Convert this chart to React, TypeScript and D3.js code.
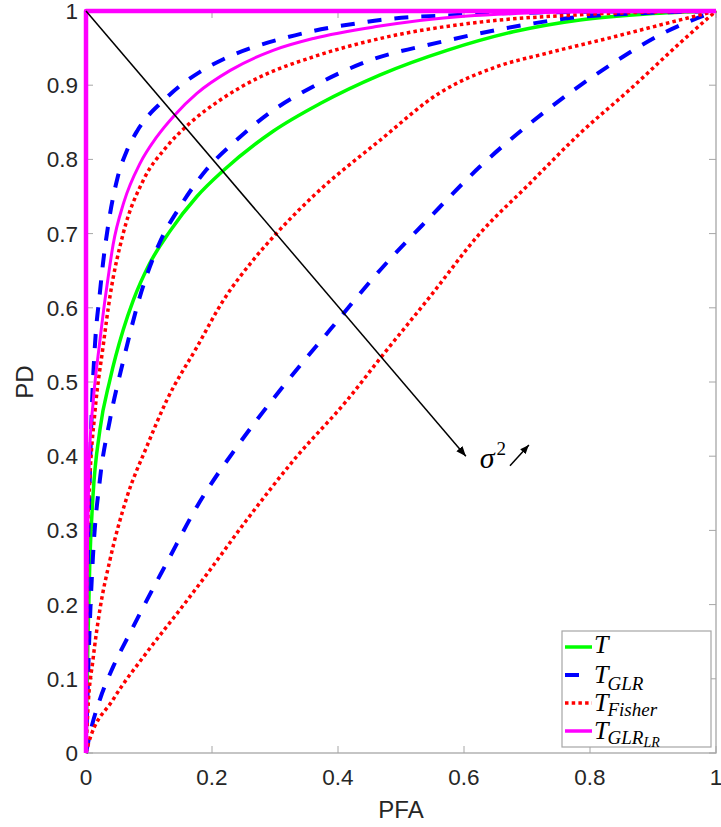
import React from "react";
import * as d3 from "d3";

type P = [number, number];

// ---- data (PFA, PD) ----
const curveT: P[] = [
  [0, 0], [0.003, 0.15], [0.006, 0.256], [0.011, 0.345], [0.022, 0.435], [0.038, 0.503],
  [0.059, 0.57], [0.075, 0.61], [0.1, 0.658], [0.133, 0.703], [0.176, 0.75], [0.218, 0.785],
  [0.297, 0.838], [0.371, 0.875], [0.467, 0.914], [0.573, 0.947], [0.678, 0.972],
  [0.784, 0.988], [0.89, 0.996], [1, 1],
];
const curveGLR1: P[] = [
  [0, 0], [0.002, 0.2], [0.006, 0.37], [0.009, 0.458], [0.014, 0.547], [0.022, 0.62],
  [0.027, 0.66], [0.035, 0.71], [0.05, 0.775], [0.065, 0.812], [0.081, 0.838], [0.1, 0.86],
  [0.12, 0.877], [0.149, 0.899], [0.181, 0.918], [0.218, 0.935], [0.265, 0.951], [0.308, 0.962],
  [0.36, 0.973], [0.435, 0.984], [0.467, 0.988], [0.6, 0.995], [0.8, 0.999], [1, 1],
];
const curveGLR2: P[] = [
  [0, 0], [0.005, 0.15], [0.011, 0.264], [0.022, 0.368], [0.038, 0.449], [0.059, 0.528],
  [0.088, 0.622], [0.117, 0.688], [0.149, 0.736], [0.191, 0.786], [0.239, 0.826], [0.287, 0.86],
  [0.36, 0.898], [0.446, 0.932], [0.562, 0.958], [0.694, 0.981], [0.784, 0.992], [1, 1],
];
const curveGLR3: P[] = [
  [0, 0], [0.006, 0.025], [0.022, 0.072], [0.043, 0.116], [0.07, 0.162], [0.096, 0.205],
  [0.128, 0.256], [0.176, 0.332], [0.239, 0.412], [0.308, 0.489], [0.387, 0.57], [0.467, 0.651],
  [0.546, 0.722], [0.625, 0.79], [0.731, 0.866], [0.837, 0.93], [0.916, 0.97], [1, 1],
];
const curveFisher1: P[] = [
  [0, 0], [0.002, 0.278], [0.006, 0.368], [0.014, 0.458], [0.027, 0.547], [0.038, 0.615],
  [0.059, 0.7], [0.091, 0.772], [0.128, 0.817], [0.165, 0.849], [0.213, 0.88], [0.276, 0.911],
  [0.36, 0.938], [0.467, 0.963], [0.625, 0.985], [0.784, 0.995], [1, 1],
];
const curveFisher2: P[] = [
  [0, 0], [0.003, 0.058], [0.011, 0.125], [0.022, 0.193], [0.038, 0.26], [0.065, 0.345],
  [0.096, 0.412], [0.128, 0.475], [0.176, 0.547], [0.218, 0.61], [0.265, 0.664], [0.302, 0.7],
  [0.36, 0.75], [0.467, 0.826], [0.562, 0.89], [0.652, 0.925], [0.731, 0.943], [0.837, 0.965],
  [0.943, 0.988], [1, 1],
];
const curveFisher3: P[] = [
  [0, 0], [0.003, 0.01], [0.043, 0.072], [0.096, 0.135], [0.149, 0.193], [0.191, 0.24],
  [0.255, 0.314], [0.334, 0.399], [0.414, 0.475], [0.467, 0.532], [0.546, 0.615], [0.625, 0.7],
  [0.705, 0.768], [0.784, 0.835], [0.863, 0.894], [0.943, 0.957], [1, 1],
];
const curveGLRLR1: P[] = [
  [0, 0], [0.002, 0.25], [0.006, 0.41], [0.011, 0.47], [0.022, 0.555], [0.03, 0.61],
  [0.035, 0.64], [0.043, 0.685], [0.06, 0.742], [0.086, 0.795], [0.112, 0.83], [0.141, 0.86],
  [0.176, 0.889], [0.229, 0.92], [0.297, 0.947], [0.361, 0.963], [0.461, 0.979], [0.6, 0.993],
  [0.8, 0.999], [1, 1],
];
const curveGLRLR2: P[] = [[0, 0], [0, 1], [1, 1]];

const xTicks = [0, 0.2, 0.4, 0.6, 0.8, 1];
const xTickLabels = ["0", "0.2", "0.4", "0.6", "0.8", "1"];
const yTicks = [0, 0.1, 0.2, 0.3, 0.4, 0.5, 0.6, 0.7, 0.8, 0.9, 1];
const yTickLabels = ["0", "0.1", "0.2", "0.3", "0.4", "0.5", "0.6", "0.7", "0.8", "0.9", "1"];

const arrowMain: P[] = [[0, 1], [0.603, 0.4]];
const arrowSmall: P[] = [[0.673, 0.387], [0.703, 0.415]];
const sigmaPos: P = [0.625, 0.384];

const W = 721, H = 827;
const L = 86, R = 716, T = 11, B = 753;

const x = d3.scaleLinear().domain([0, 1]).range([L, R]);
const y = d3.scaleLinear().domain([0, 1]).range([B, T]);
const smooth = d3.line<P>().x((d) => x(d[0])).y((d) => y(d[1])).curve(d3.curveMonotoneX);
const straight = d3.line<P>().x((d) => x(d[0])).y((d) => y(d[1]));

const GREEN = "#00ff00", BLUE = "#0000ff", RED = "#ff0000", MAG = "#ff00ff";
const dashBlue = "14 13";
const dotRed = "3.5 3.2";
const TICK = "#262626";
const AX = "#a6a6a6";

const series = [
  { pts: curveT, color: GREEN, w: 3.5, dash: undefined as string | undefined, lin: false },
  { pts: curveGLR1, color: BLUE, w: 4, dash: dashBlue, lin: false },
  { pts: curveGLR2, color: BLUE, w: 4, dash: dashBlue, lin: false },
  { pts: curveGLR3, color: BLUE, w: 4, dash: dashBlue, lin: false },
  { pts: curveFisher1, color: RED, w: 3.5, dash: dotRed, lin: false },
  { pts: curveFisher2, color: RED, w: 3.5, dash: dotRed, lin: false },
  { pts: curveFisher3, color: RED, w: 3.5, dash: dotRed, lin: false },
  { pts: curveGLRLR1, color: MAG, w: 3, dash: undefined, lin: false },
  { pts: curveGLRLR2, color: MAG, w: 4.5, dash: undefined, lin: true },
];

const legendRows = [
  { color: GREEN, dash: undefined as string | undefined, w: 3.5, y: 647 },
  { color: BLUE, dash: dashBlue, w: 4, y: 675 },
  { color: RED, dash: dotRed, w: 3.5, y: 703 },
  { color: MAG, dash: undefined, w: 3.5, y: 731 },
];

export default function App() {
  const serif = "'Liberation Serif', 'DejaVu Serif', serif";
  const sans = "'Liberation Sans', Arial, Helvetica, sans-serif";
  return (
    <svg
      width={W}
      height={H}
      style={{ position: "absolute", left: 0, top: 0, background: "#fff" }}
    >
      <defs>
        <marker id="ah" viewBox="0 0 10 10" refX="10" refY="5" markerWidth="10" markerHeight="10" markerUnits="userSpaceOnUse" orient="auto">
          <path d="M0,1 L10,5 L0,9 z" fill="#000" />
        </marker>
        <marker id="ah2" viewBox="0 0 10 10" refX="10" refY="5" markerWidth="9" markerHeight="9" markerUnits="userSpaceOnUse" orient="auto">
          <path d="M0,1 L10,5 L0,9 z" fill="#000" />
        </marker>
      </defs>
      <rect x={0} y={0} width={W} height={H} fill="#fff" />
      {/* axes box */}
      <rect x={L} y={T} width={R - L} height={B - T} fill="none" stroke={AX} strokeWidth={1.3} />
      {xTicks.map((t, i) => (
        <g key={"xt" + i}>
          <line x1={x(t)} x2={x(t)} y1={B} y2={B - 7} stroke={AX} strokeWidth={1} />
          <line x1={x(t)} x2={x(t)} y1={T} y2={T + 7} stroke={AX} strokeWidth={1} />
          <text x={x(t)} y={785} textAnchor="middle" fontSize={22.5} fontFamily={sans} fill={TICK}>
            {xTickLabels[i]}
          </text>
        </g>
      ))}
      {yTicks.map((t, i) => (
        <g key={"yt" + i}>
          <line x1={L} x2={L + 7} y1={y(t)} y2={y(t)} stroke={AX} strokeWidth={1} />
          <line x1={R} x2={R - 7} y1={y(t)} y2={y(t)} stroke={AX} strokeWidth={1} />
          <text x={78} y={y(t) + 8} textAnchor="end" fontSize={22.5} fontFamily={sans} fill={TICK}>
            {yTickLabels[i]}
          </text>
        </g>
      ))}
      <text x={(L + R) / 2} y={818} textAnchor="middle" fontSize={24} fontFamily={sans} fill={TICK}>
        PFA
      </text>
      <text
        transform={`translate(33, ${(T + B) / 2}) rotate(-90)`}
        textAnchor="middle"
        fontSize={24}
        fontFamily={sans}
        fill={TICK}
      >
        PD
      </text>

      {/* curves */}
      {series.map((s, i) => (
        <path
          key={"s" + i}
          d={(s.lin ? straight(s.pts) : smooth(s.pts)) || ""}
          fill="none"
          stroke={s.color}
          strokeWidth={s.w}
          strokeDasharray={s.dash}
          strokeLinejoin="round"
        />
      ))}

      {/* annotation */}
      <line
        x1={x(arrowMain[0][0])}
        y1={y(arrowMain[0][1])}
        x2={x(arrowMain[1][0])}
        y2={y(arrowMain[1][1])}
        stroke="#000"
        strokeWidth={1.5}
        markerEnd="url(#ah)"
      />
      <text x={x(sigmaPos[0])} y={y(sigmaPos[1])} fontSize={30} fontFamily={serif} fontStyle="italic" fill="#000">
        σ
        <tspan fontStyle="normal" fontSize={19} dy={-13} dx={2}>2</tspan>
      </text>
      <line
        x1={x(arrowSmall[0][0])}
        y1={y(arrowSmall[0][1])}
        x2={x(arrowSmall[1][0])}
        y2={y(arrowSmall[1][1])}
        stroke="#000"
        strokeWidth={1.5}
        markerEnd="url(#ah2)"
      />

      {/* legend */}
      <rect x={562} y={631} width={149} height={116} fill="#fff" stroke={AX} strokeWidth={1.2} />
      {legendRows.map((r, i) => (
        <line
          key={"lg" + i}
          x1={565}
          x2={592}
          y1={r.y}
          y2={r.y}
          stroke={r.color}
          strokeWidth={r.w}
          strokeDasharray={r.dash}
        />
      ))}
      <text x={594} y={653} fontSize={26} fontFamily={serif} fontStyle="italic" fill="#000">T</text>
      <text x={594} y={683} fontSize={26} fontFamily={serif} fontStyle="italic" fill="#000">
        T<tspan fontSize={19} dy={7} dx={-1}>GLR</tspan>
      </text>
      <text x={594} y={711} fontSize={26} fontFamily={serif} fontStyle="italic" fill="#000">
        T<tspan fontSize={19} dy={5} dx={-1}>Fisher</tspan>
      </text>
      <text x={594} y={739} fontSize={26} fontFamily={serif} fontStyle="italic" fill="#000">
        T<tspan fontSize={19} dy={5} dx={-1}>GLR</tspan>
        <tspan fontSize={14} dy={3}>LR</tspan>
      </text>
    </svg>
  );
}
